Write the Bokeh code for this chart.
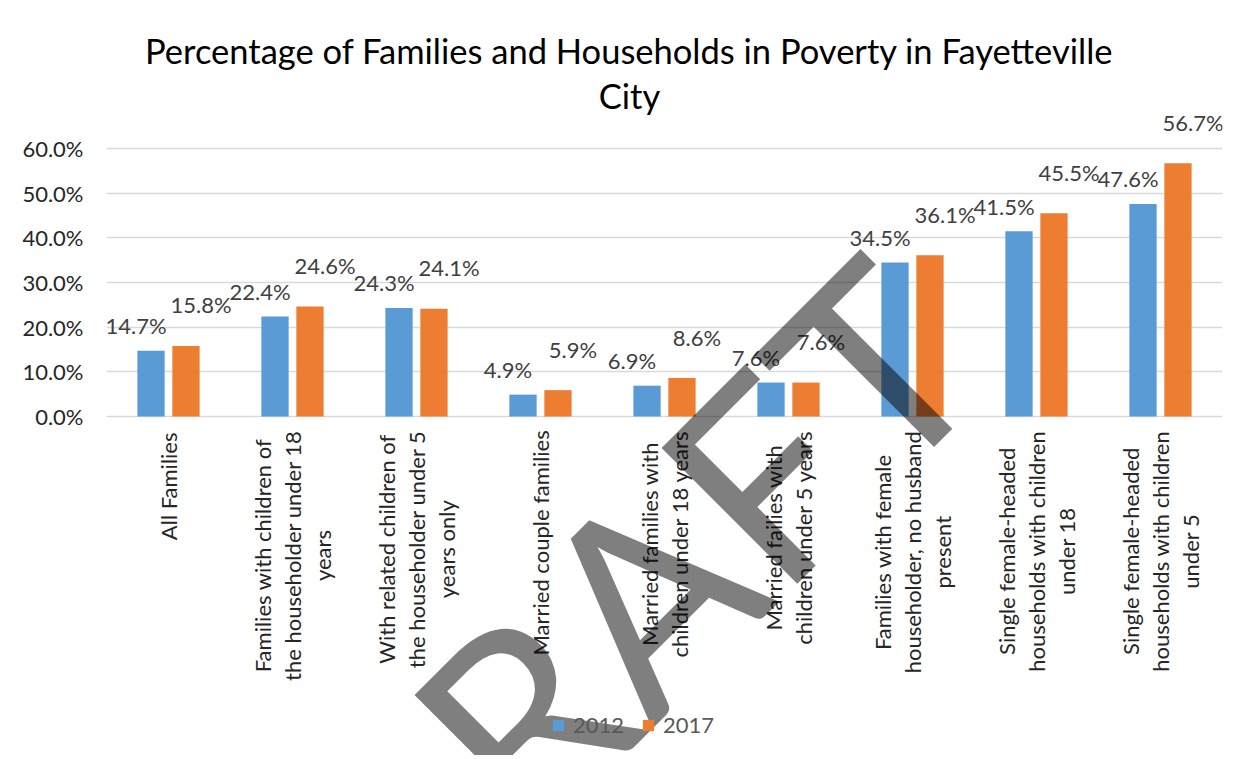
import math
from bokeh.plotting import figure
from bokeh.models import (ColumnDataSource, FactorRange, FixedTicker, PrintfTickFormatter,
                          Legend, LegendItem, LabelSet, Label)
from bokeh.core.properties import value
from bokeh.transform import dodge
from bokeh.embed import file_html
from bokeh.resources import INLINE

# ---------------- data ----------------
categories = [
    "All Families",
    "Families with children of\nthe householder under 18\nyears",
    "With related children of\nthe householder under 5\nyears only",
    "Married couple families",
    "Married families with\nchildren under 18 years",
    "Married failies with\nchildren under 5 years",
    "Families with female\nhouseholder, no husband\npresent",
    "Single female-headed\nhouseholds with children\nunder 18",
    "Single female-headed\nhouseholds with children\nunder 5",
]
series_names = ["2012", "2017"]
values_2012 = [14.7, 22.4, 24.3, 4.9, 6.9, 7.6, 34.5, 41.5, 47.6]
values_2017 = [15.8, 24.6, 24.1, 5.9, 8.6, 7.6, 36.1, 45.5, 56.7]
y_ticks = [0, 10, 20, 30, 40, 50, 60]
title_line1 = "Percentage of Families and Households in Poverty in Fayetteville"
title_line2 = "City"
watermark_text = "DRAFT"

# ---------------- layout / style ----------------
W, H = 1240, 755
FRAME_LEFT, FRAME_RIGHT = 106, 1222
ZERO_Y, TOP_TICK_Y = 416, 148          # pixel rows of 0 % and 60 %
PX_PER_UNIT = (ZERO_Y - TOP_TICK_Y) / y_ticks[-1]
Y_START = -(H - ZERO_Y) / PX_PER_UNIT
Y_END = ZERO_Y / PX_PER_UNIT

FONT = "Lato"
BLUE = "#5B9BD5"
ORANGE = "#ED7D31"
GRID = "#D9D9D9"
CAT_PX = 22
LINE_GAP = 30
CAT_STANDOFF = 16

# approximate Lato advance widths (em) used to centre the wrapped category lines
LATO_W = {' ': 0.193, ',': 0.22, '-': 0.33, '1': 0.58, '5': 0.58, '8': 0.58,
          'A': 0.68, 'F': 0.53, 'M': 0.85, 'S': 0.52, 'W': 0.99,
          'a': 0.50, 'b': 0.56, 'c': 0.47, 'd': 0.56, 'e': 0.53, 'f': 0.32,
          'g': 0.50, 'h': 0.56, 'i': 0.24, 'l': 0.24, 'm': 0.84, 'n': 0.56,
          'o': 0.56, 'p': 0.56, 'r': 0.36, 's': 0.42, 't': 0.35, 'u': 0.56,
          'v': 0.50, 'w': 0.77, 'y': 0.50}


def est_width(s):
    return sum(LATO_W.get(ch, 0.52) for ch in s) * CAT_PX


split = [c.split("\n") for c in categories]
block_w = [max(est_width(ln) for ln in lines) for lines in split]
n_lines = max(len(lines) for lines in split)

data = dict(
    cat=categories,
    v12=values_2012,
    v17=values_2017,
    l12=[f"{v:.1f}%" for v in values_2012],
    l17=[f"{v:.1f}%" for v in values_2017],
    cat_yoff=[-(CAT_STANDOFF + bw / 2) for bw in block_w],
)
for k in range(n_lines):
    data[f"line{k}"] = [lines[k] if k < len(lines) else "" for lines in split]
    data[f"xoff{k}"] = [(k - (len(lines) - 1) / 2) * LINE_GAP for lines in split]
src = ColumnDataSource(data)

p = figure(
    x_range=FactorRange(factors=categories, range_padding=0),
    y_range=(Y_START, Y_END),
    width=W, height=H, title=None,
    output_backend="svg", toolbar_location=None,
    min_border_left=FRAME_LEFT, min_border_right=W - FRAME_RIGHT,
    min_border_top=0, min_border_bottom=0,
)
p.background_fill_color = "white"
p.border_fill_color = "white"
p.outline_line_color = None

r12 = p.vbar(x=dodge("cat", -0.141, range=p.x_range), top="v12", width=0.22,
             source=src, fill_color=BLUE, line_color=None)
r17 = p.vbar(x=dodge("cat", 0.141, range=p.x_range), top="v17", width=0.22,
             source=src, fill_color=ORANGE, line_color=None)

lab_common = dict(source=src, text_font=value(FONT), text_font_size="22px",
                  text_color="#404040", text_align="center", text_baseline="middle")
p.add_layout(LabelSet(x=dodge("cat", -0.141, range=p.x_range), y="v12", text="l12",
                      x_offset=-15, y_offset=25, **lab_common))
p.add_layout(LabelSet(x=dodge("cat", 0.141, range=p.x_range), y="v17", text="l17",
                      x_offset=15, y_offset=41, **lab_common))

# category labels: rotated, each wrapped line centred on the label block
for k in range(n_lines):
    p.add_layout(LabelSet(x="cat", y=0, text=f"line{k}", source=src,
                          x_offset=f"xoff{k}", y_offset="cat_yoff",
                          angle=math.pi / 2, text_align="center", text_baseline="middle",
                          text_font=value(FONT), text_font_size=f"{CAT_PX}px",
                          text_color="#262626"))

# axes
p.yaxis.ticker = FixedTicker(ticks=y_ticks)
p.yaxis.formatter = PrintfTickFormatter(format="%.1f%%")
p.yaxis.axis_line_color = None
p.yaxis.major_tick_line_color = None
p.yaxis.minor_tick_line_color = None
p.yaxis.major_tick_out = 0
p.yaxis.major_tick_in = 0
p.yaxis.major_label_standoff = 23
p.yaxis.major_label_text_font = FONT
p.yaxis.major_label_text_font_size = "22px"
p.yaxis.major_label_text_color = "#262626"

p.xaxis.visible = False
p.xgrid.grid_line_color = None
p.ygrid.grid_line_color = GRID
p.ygrid.grid_line_width = 1.5

# titles (two centred lines)
title_common = dict(x_units="screen", y_units="screen", text_align="center",
                    text_baseline="middle", text_font=FONT, text_font_size="34.5px",
                    text_color="#000000")
p.add_layout(Label(x=629 - FRAME_LEFT, y=H - 50, text=title_line1, **title_common))
p.add_layout(Label(x=629 - FRAME_LEFT, y=H - 95, text=title_line2, **title_common))

# legend
legend = Legend(items=[LegendItem(label=series_names[0], renderers=[r12]),
                       LegendItem(label=series_names[1], renderers=[r17])],
                orientation="horizontal", location=(551 - FRAME_LEFT, 17),
                label_text_font=FONT, label_text_font_size="22px",
                label_text_color="#595959", glyph_width=14, glyph_height=14,
                label_standoff=8, border_line_color=None, background_fill_alpha=0,
                spacing=17, margin=0, padding=6)
p.add_layout(legend, "center")

# watermark
p.add_layout(Label(x=925 - FRAME_LEFT, y=H - 308, x_units="screen", y_units="screen",
                   text=watermark_text, angle=math.pi / 4, text_align="right",
                   text_baseline="alphabetic", text_font=FONT, text_font_size="268px",
                   text_color="black", text_alpha=0.5))

open("out.html", "w").write(file_html(p, INLINE))
